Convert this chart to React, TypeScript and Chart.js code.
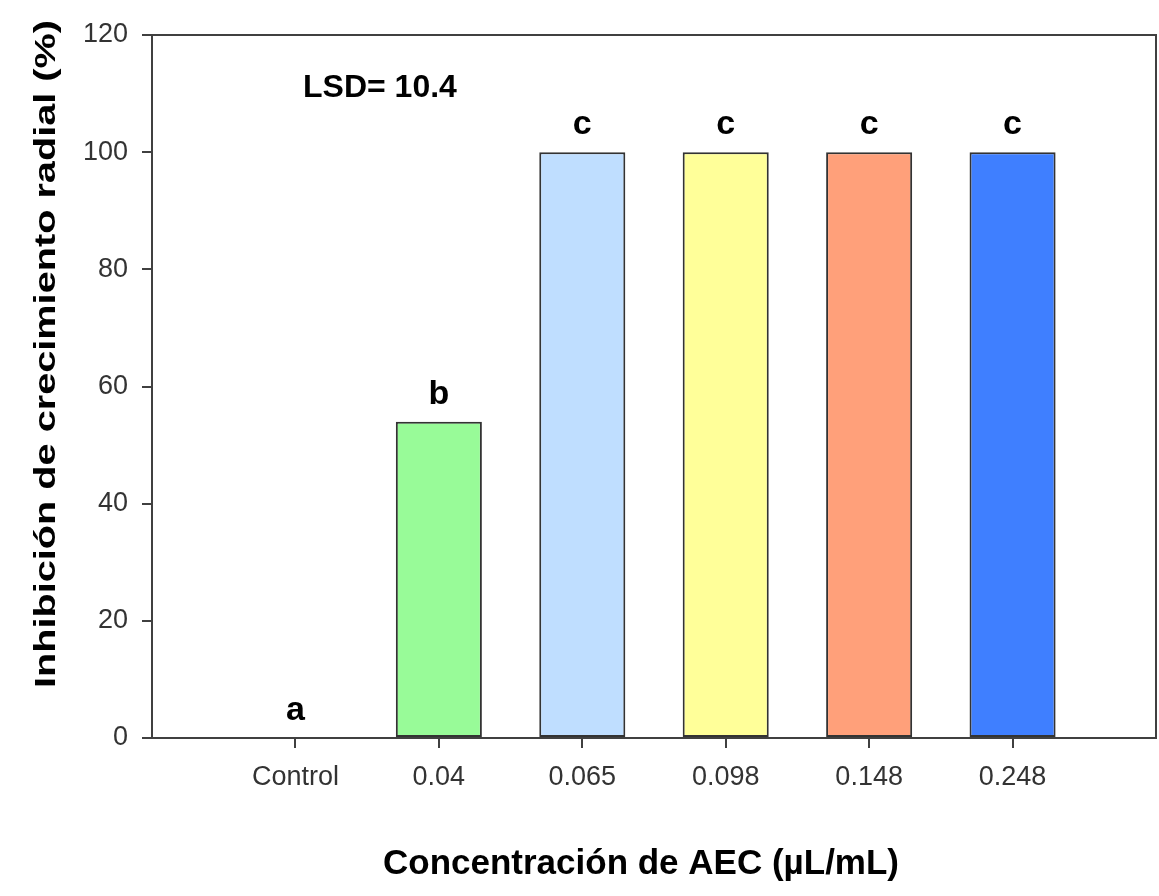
import React, { useEffect, useRef } from "react";
import { Chart, registerables } from "chart.js";

Chart.register(...registerables);

const categories = ["Control", "0.04", "0.065", "0.098", "0.148", "0.248"];
const inhibition = [0, 54, 100, 100, 100, 100];
const groupLetters = ["a", "b", "c", "c", "c", "c"];
const barColors = ["#ffffff", "#98fb98", "#bfdeff", "#ffff99", "#ffa07a", "#3f7fff"];
const yTicks = [0, 20, 40, 60, 80, 100, 120];
const lsdText = "LSD= 10.4";
const xTitle = "Concentración de AEC (µL/mL)";
const yTitle = "Inhibición de crecimiento radial (%)";

const FONT = '"Liberation Sans", Arial, sans-serif';
const AXIS = "#404040";

const decorations = {
  id: "decorations",
  afterDraw(chart: any) {
    const { ctx, chartArea } = chart;
    const xs = chart.scales.x;
    const ys = chart.scales.y;
    ctx.save();
    // top and right frame lines
    ctx.strokeStyle = AXIS;
    ctx.lineWidth = 2;
    ctx.beginPath();
    ctx.moveTo(chartArea.left, chartArea.top);
    ctx.lineTo(chartArea.right, chartArea.top);
    ctx.lineTo(chartArea.right, chartArea.bottom);
    ctx.stroke();

    // significance letters above bars
    ctx.fillStyle = "#000";
    ctx.font = `bold 34px ${FONT}`;
    ctx.textAlign = "center";
    ctx.textBaseline = "alphabetic";
    inhibition.forEach((v, i) => {
      const px = xs.getPixelForValue(i + 1);
      const py = ys.getPixelForValue(v);
      ctx.fillText(groupLetters[i], px, py - 18);
    });

    // LSD annotation
    ctx.font = `bold 32px ${FONT}`;
    ctx.textAlign = "left";
    ctx.textBaseline = "middle";
    ctx.fillText(lsdText, 303, 88);

    // axis titles
    ctx.font = `bold 35px ${FONT}`;
    ctx.textAlign = "center";
    ctx.fillText(xTitle, 641, 864);
    ctx.font = `bold 30px ${FONT}`;
    const w = ctx.measureText(yTitle).width;
    ctx.translate(47, 354);
    ctx.rotate(-Math.PI / 2);
    ctx.scale(668 / w, 1);
    ctx.fillText(yTitle, 0, 0);
    ctx.restore();
  },
};

export default function App() {
  const ref = useRef<HTMLCanvasElement | null>(null);

  useEffect(() => {
    document.body.style.margin = "0";
    const canvas = ref.current;
    if (!canvas) return;
    const chart = new Chart(canvas, {
      type: "bar",
      data: {
        datasets: [
          {
            data: inhibition.map((v, i) => ({ x: i + 1, y: v })),
            backgroundColor: barColors,
            borderColor: "#333333",
            borderWidth: inhibition.map((v) => (v === 0 ? 0 : 2)),
            borderSkipped: false,
            barPercentage: 0.6,
            categoryPercentage: 1,
          },
        ],
      },
      options: {
        responsive: false,
        animation: false,
        layout: { padding: { left: 0, top: 35, right: 3, bottom: 0 } },
        plugins: {
          legend: { display: false },
          tooltip: { enabled: false },
        },
        scales: {
          x: {
            type: "linear",
            min: 0,
            max: categories.length + 1,
            offset: false,
            afterBuildTicks: (scale: any) => {
              scale.ticks = categories.map((_, i) => ({ value: i + 1 }));
            },
            afterFit: (scale: any) => {
              scale.height = 158;
            },
            ticks: {
              autoSkip: false,
              maxRotation: 0,
              padding: 13,
              color: "#333333",
              font: { family: FONT, size: 27 },
              callback: (v: any) => categories[Number(v) - 1] ?? "",
            },
            grid: {
              offset: false,
              drawOnChartArea: false,
              drawTicks: true,
              tickLength: 10,
              color: AXIS,
              lineWidth: 2,
            },
            border: { display: true, color: AXIS, width: 2 },
          },
          y: {
            min: 0,
            max: 120,
            afterBuildTicks: (scale: any) => {
              scale.ticks = yTicks.map((v) => ({ value: v }));
            },
            afterFit: (scale: any) => {
              scale.width = 152;
            },
            ticks: {
              padding: 14,
              color: "#333333",
              font: { family: FONT, size: 27 },
            },
            grid: {
              drawOnChartArea: false,
              drawTicks: true,
              tickLength: 10,
              color: AXIS,
              lineWidth: 2,
            },
            border: { display: true, color: AXIS, width: 2 },
          },
        },
      },
      plugins: [decorations],
    });
    return () => chart.destroy();
  }, []);

  return (
    <canvas
      ref={ref}
      width={1159}
      height={896}
      style={{ display: "block", width: 1159, height: 896 }}
    />
  );
}
